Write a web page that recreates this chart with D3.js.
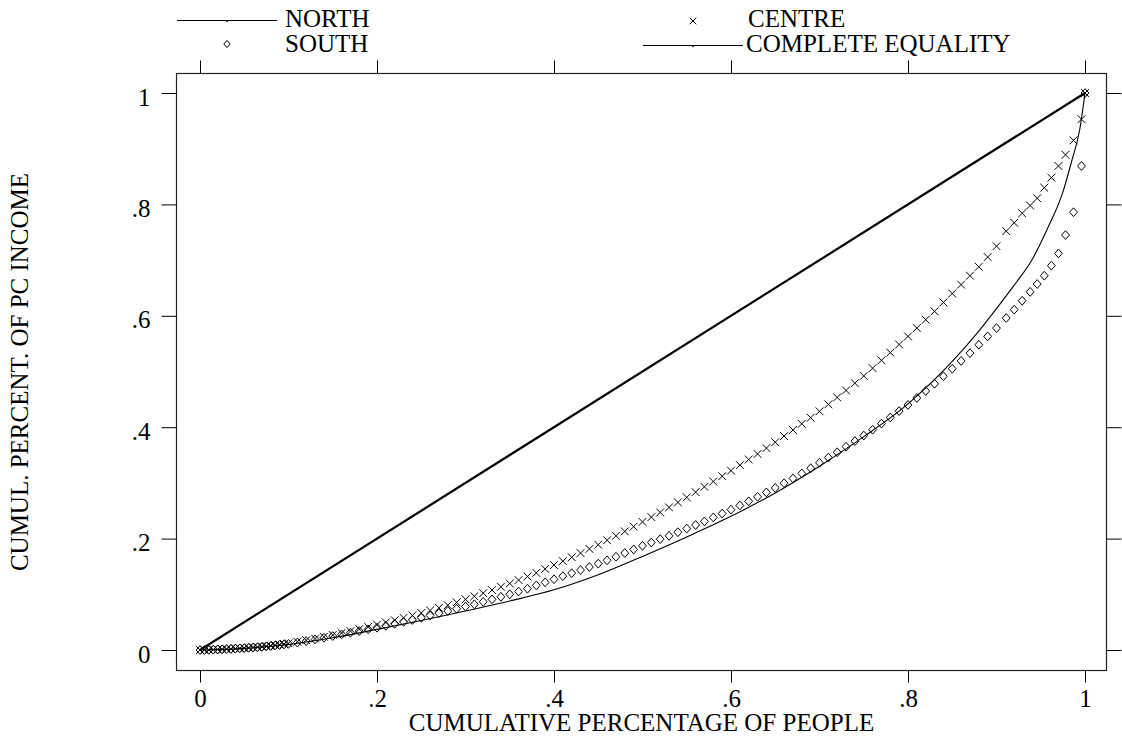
<!doctype html>
<html>
<head>
	<meta charset="utf-8">
	<title>Lorenz curves</title>
	<style>
		body {
			margin: 0;
			background: #fff;
		}
		svg text {
			font-family: "Liberation Serif", "Times New Roman", serif;
			font-size: 25px;
			fill: #000;
		}
		.frame {
			fill: none;
			stroke: #222;
			stroke-width: 1.2;
		}
		.axis line {
			stroke: #000;
		}
		.axis path {
			display: none;
		}
	</style>
</head>
<body>

	<svg width="1122" height="740"></svg>

	<script src="https://d3js.org/d3.v7.min.js"></script>
	<script>

		// cumulative share of people (x) at each marker
		const people = [
			0, 0.005, 0.01, 0.015, 0.02, 0.025, 0.03, 0.035, 0.04, 0.045,
			0.05, 0.055, 0.06, 0.065, 0.07, 0.075, 0.08, 0.085, 0.09, 0.095,
			0.10, 0.11, 0.12, 0.13, 0.14, 0.15, 0.16, 0.17, 0.18, 0.19,
			0.20, 0.21, 0.22, 0.23, 0.24, 0.25, 0.26, 0.27, 0.28, 0.29,
			0.30, 0.31, 0.32, 0.33, 0.34, 0.35, 0.36, 0.37, 0.38, 0.39,
			0.40, 0.41, 0.42, 0.43, 0.44, 0.45, 0.46, 0.47, 0.48, 0.49,
			0.50, 0.51, 0.52, 0.53, 0.54, 0.55, 0.56, 0.57, 0.58, 0.59,
			0.60, 0.61, 0.62, 0.63, 0.64, 0.65, 0.66, 0.67, 0.68, 0.69,
			0.70, 0.71, 0.72, 0.73, 0.74, 0.75, 0.76, 0.77, 0.78, 0.79,
			0.80, 0.81, 0.82, 0.83, 0.84, 0.85, 0.86, 0.87, 0.88, 0.89,
			0.90, 0.911, 0.92, 0.929, 0.938, 0.946, 0.954, 0.962, 0.970, 0.978,
			0.987, 0.996, 1.0
		];

		const south = [
			0, 0, 0.0003, 0.0006, 0.001, 0.0013, 0.0017, 0.002, 0.0025, 0.003,
			0.0035, 0.004, 0.0045, 0.005, 0.0057, 0.0065, 0.0073, 0.0082, 0.0091, 0.010,
			0.011, 0.0135, 0.016, 0.019, 0.022, 0.025, 0.028, 0.031, 0.034, 0.037,
			0.040, 0.0435, 0.047, 0.0505, 0.054, 0.058, 0.062, 0.066, 0.070, 0.074,
			0.078, 0.082, 0.0865, 0.091, 0.0955, 0.100, 0.105, 0.110, 0.116, 0.1215,
			0.127, 0.1325, 0.138, 0.1435, 0.149, 0.155, 0.161, 0.1675, 0.174, 0.1805,
			0.187, 0.193, 0.199, 0.205, 0.2115, 0.218, 0.2245, 0.231, 0.238, 0.245,
			0.252, 0.2595, 0.267, 0.275, 0.283, 0.291, 0.2995, 0.308, 0.317, 0.3265,
			0.336, 0.3455, 0.355, 0.365, 0.375, 0.385, 0.3955, 0.4065, 0.4175, 0.429,
			0.440, 0.4525, 0.465, 0.478, 0.4915, 0.505, 0.519, 0.533, 0.548, 0.563,
			0.578, 0.596, 0.611, 0.627, 0.643, 0.657, 0.672, 0.690, 0.712, 0.745,
			0.786, 0.869, 1.0
		];

		const centre = [
			0, 0, 0.0003, 0.0006, 0.001, 0.0013, 0.0017, 0.002, 0.0025, 0.003,
			0.0035, 0.004, 0.0045, 0.0052, 0.006, 0.0068, 0.0077, 0.0087, 0.0097, 0.0108,
			0.012, 0.0148, 0.0176, 0.0206, 0.0238, 0.027, 0.0305, 0.034, 0.0376, 0.0414,
			0.0455, 0.0495, 0.0535, 0.0577, 0.062, 0.0665, 0.071, 0.0757, 0.0805, 0.0855,
			0.091, 0.0965, 0.102, 0.1075, 0.1135, 0.1195, 0.1255, 0.132, 0.1385, 0.1455,
			0.1525, 0.1595, 0.1665, 0.174, 0.1815, 0.189, 0.197, 0.205, 0.213, 0.2215,
			0.230, 0.2385, 0.247, 0.256, 0.265, 0.274, 0.2835, 0.293, 0.3025, 0.312,
			0.322, 0.332, 0.342, 0.352, 0.3625, 0.373, 0.384, 0.395, 0.406, 0.417,
			0.4285, 0.441, 0.4535, 0.466, 0.479, 0.492, 0.506, 0.520, 0.534, 0.5485,
			0.563, 0.578, 0.593, 0.608, 0.624, 0.640, 0.656, 0.672, 0.688, 0.7055,
			0.725, 0.752, 0.767, 0.784, 0.798, 0.811, 0.830, 0.848, 0.869, 0.889,
			0.915, 0.953, 1.0
		];

		// north is drawn as a plain line
		const north_x = [ 0, 0.05, 0.10, 0.15, 0.20, 0.25, 0.30, 0.35, 0.40, 0.45, 0.50, 0.55, 0.60, 0.65, 0.70, 0.75, 0.80, 0.85, 0.875, 0.90, 0.92, 0.941, 0.958, 0.975, 0.985, 0.994, 1.0 ];
		const north_y = [ 0, 0.003, 0.010, 0.022, 0.037, 0.053, 0.070, 0.088, 0.108, 0.135, 0.168, 0.203, 0.240, 0.282, 0.330, 0.383, 0.442, 0.518, 0.563, 0.613, 0.655, 0.703, 0.758, 0.822, 0.878, 0.934, 1.0 ];

		const equality_x = [ 0, 1 ];
		const equality_y = [ 0, 1 ];

		const tick_values = [ 0, 0.2, 0.4, 0.6, 0.8, 1 ];
		const tick_labels = [ "0", ".2", ".4", ".6", ".8", "1" ];

		const legend_labels = [ "NORTH", "SOUTH", "CENTRE", "COMPLETE EQUALITY" ];

		const svg = d3.select( "svg" );

		const frame = { left: 176.5, right: 1106.5, top: 73.5, bottom: 670.5 };

		const x = d3.scaleLinear()
				.domain( [ 0, 1 ] )
				.range( [ 200, 1085 ] );

		const y = d3.scaleLinear()
				.domain( [ 0, 1 ] )
				.range( [ 650, 93 ] );

		const fmt = ( d ) => tick_labels[ tick_values.indexOf( d ) ];

		// plot frame
		svg.append( "rect" )
			.attr( "class", "frame" )
			.attr( "x", frame.left )
			.attr( "y", frame.top )
			.attr( "width", frame.right - frame.left )
			.attr( "height", frame.bottom - frame.top );

		// left axis with labels
		const left_axis = svg.append( "g" )
			.attr( "class", "axis" )
			.attr( "transform", "translate(" + frame.left + ",0)" )
			.call( d3.axisLeft( y ).tickValues( tick_values ).tickSize( 15 ).tickPadding( 11 ).tickFormat( fmt ) );
		left_axis.selectAll( "text" )
			.attr( "dy", null )
			.attr( "y", 12 );

		// right axis, ticks only
		svg.append( "g" )
			.attr( "class", "axis" )
			.attr( "transform", "translate(" + frame.right + ",0)" )
			.call( d3.axisRight( y ).tickValues( tick_values ).tickSize( 15 ).tickFormat( "" ) );

		// bottom axis with labels
		const bottom_axis = svg.append( "g" )
			.attr( "class", "axis" )
			.attr( "transform", "translate(0," + frame.bottom + ")" )
			.call( d3.axisBottom( x ).tickValues( tick_values ).tickSize( 12 ).tickFormat( fmt ) );
		bottom_axis.selectAll( "text" )
			.attr( "dy", null )
			.attr( "y", 36 );

		// top axis, ticks only
		svg.append( "g" )
			.attr( "class", "axis" )
			.attr( "transform", "translate(0," + frame.top + ")" )
			.call( d3.axisTop( x ).tickValues( tick_values ).tickSize( 13 ).tickFormat( "" ) );

		// axis titles
		svg.append( "text" )
			.attr( "x", ( frame.left + frame.right ) / 2 )
			.attr( "y", 731 )
			.attr( "text-anchor", "middle" )
			.text( "CUMULATIVE PERCENTAGE OF PEOPLE" );

		svg.append( "text" )
			.attr( "transform", "translate(28," + ( frame.top + frame.bottom ) / 2 + ") rotate(-90)" )
			.attr( "text-anchor", "middle" )
			.text( "CUMUL. PERCENT. OF PC INCOME" );

		const line = d3.line()
			.x( ( d ) => x( d[0] ) )
			.y( ( d ) => y( d[1] ) );

		// complete equality
		svg.append( "path" )
			.datum( d3.zip( equality_x, equality_y ) )
			.attr( "d", line )
			.attr( "fill", "none" )
			.attr( "stroke", "#000" )
			.attr( "stroke-width", 2.2 );

		// north
		svg.append( "path" )
			.datum( d3.zip( north_x, north_y ) )
			.attr( "d", line.curve( d3.curveMonotoneX ) )
			.attr( "fill", "none" )
			.attr( "stroke", "#000" )
			.attr( "stroke-width", 1.1 );

		const diamond = "M0,-4.4L3.9,0L0,4.4L-3.9,0Z";
		const cross = "M-3.9,-3.9L3.9,3.9M-3.9,3.9L3.9,-3.9";

		// south diamonds
		svg.append( "g" )
			.selectAll( "path" )
			.data( d3.zip( people, south ) )
			.enter().append( "path" )
				.attr( "transform", ( d ) => "translate(" + x( d[0] ) + "," + y( d[1] ) + ")" )
				.attr( "d", diamond )
				.attr( "fill", "none" )
				.attr( "stroke", "#000" )
				.attr( "stroke-width", 1 );

		// centre crosses
		svg.append( "g" )
			.selectAll( "path" )
			.data( d3.zip( people, centre ) )
			.enter().append( "path" )
				.attr( "transform", ( d ) => "translate(" + x( d[0] ) + "," + y( d[1] ) + ")" )
				.attr( "d", cross )
				.attr( "fill", "none" )
				.attr( "stroke", "#000" )
				.attr( "stroke-width", 1 );

		// legend
		const legend = [
			{ label: legend_labels[0], cx: 227, cy: 20, tx: 285, ty: 27, kind: "line" },
			{ label: legend_labels[1], cx: 227, cy: 44, tx: 285, ty: 52, kind: "diamond" },
			{ label: legend_labels[2], cx: 693, cy: 21, tx: 748, ty: 27, kind: "cross" },
			{ label: legend_labels[3], cx: 693, cy: 45, tx: 746, ty: 52, kind: "line" }
		];

		const key = svg.append( "g" )
			.selectAll( "g" )
			.data( legend )
			.enter().append( "g" );

		key.each( function( d ) {
			const g = d3.select( this );
			if ( d.kind === "line" ) {
				g.append( "line" )
					.attr( "x1", d.cx - 50 )
					.attr( "x2", d.cx + 50 )
					.attr( "y1", d.cy + 0.5 )
					.attr( "y2", d.cy + 0.5 )
					.attr( "stroke", "#000" )
					.attr( "stroke-width", 1 );
				g.append( "circle" )
					.attr( "cx", d.cx )
					.attr( "cy", d.cy + 1.5 )
					.attr( "r", 0.8 )
					.attr( "fill", "#000" );
			} else {
				g.append( "path" )
					.attr( "transform", "translate(" + d.cx + "," + d.cy + ")" )
					.attr( "d", d.kind === "diamond" ? "M0,-3.5L3.2,0L0,3.5L-3.2,0Z" : "M-3.3,-3.3L3.3,3.3M-3.3,3.3L3.3,-3.3" )
					.attr( "fill", "none" )
					.attr( "stroke", "#000" )
					.attr( "stroke-width", 1 );
			}
			g.append( "text" )
				.attr( "x", d.tx )
				.attr( "y", d.ty )
				.text( d.label );
		});

	</script>

</body>
</html>
